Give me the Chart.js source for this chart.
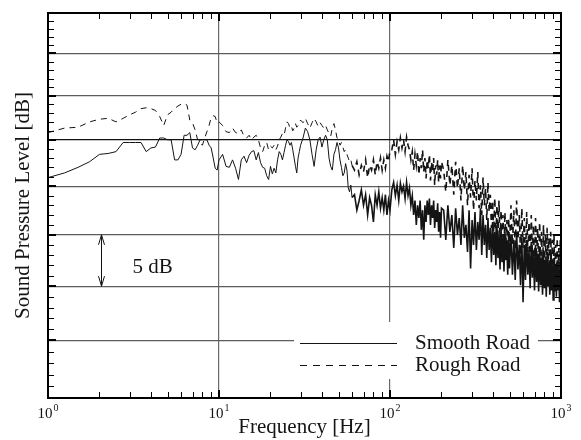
<!DOCTYPE html>
<html>
<head>
<meta charset="utf-8">
<script src="https://cdn.jsdelivr.net/npm/chart.js@4"></script>
<style>
  html, body { margin: 0; padding: 0; background: #fff; }
</style>
</head>
<body>
<canvas id="spectrum" width="581" height="440"></canvas>
<script>
// Frequency points [Hz], shared by both road surfaces
const freqHz = [
    1, 1.25, 1.5, 1.75, 2, 2.25, 2.5, 2.75, 3, 3.25, 3.5, 3.75, 4, 4.25, 4.5, 4.75, 5, 5.25, 5.5, 5.75,
    6, 6.25, 6.5, 6.75, 7, 7.25, 7.5, 7.75, 8, 8.25, 8.5, 8.75, 9, 9.25, 9.5, 9.75, 10,
    10.5, 11, 11.5, 12, 12.5, 13, 13.5, 14, 14.5, 15, 15.5, 16, 16.5, 17, 17.5, 18, 18.5, 19, 19.5, 20,
    20.5, 21, 21.5, 22, 22.5, 23, 23.5, 24, 24.5, 25, 25.5, 26, 26.5, 27, 27.5, 28, 28.5, 29, 29.5, 30,
    31, 32, 33, 34, 35, 36, 37, 38, 39, 40, 41, 42, 43, 44, 45, 46, 47, 48, 49, 50,
    51, 52, 53, 54, 55, 56, 57, 58, 59, 60,
    62, 64, 66, 68, 70, 72, 74, 76, 78, 80, 82, 84, 86, 88, 90, 92, 94, 96, 98, 100,
    102.5, 105, 107.5, 110, 112.5, 115, 117.5, 120, 122.5, 125, 127.5, 130, 132.5, 135, 137.5, 140, 142.5, 145, 147.5, 150,
    152.5, 155, 157.5, 160, 162.5, 165, 167.5, 170, 172.5, 175, 177.5, 180, 182.5, 185, 187.5, 190, 192.5, 195, 197.5, 200,
    206, 212, 218, 224, 230, 236, 242, 248, 254, 260, 266, 272, 278, 284, 290, 296, 302, 308, 314, 320,
    326, 332, 338, 344, 350, 356, 362, 368, 374, 380, 386, 392, 398, 404, 410, 416, 422, 428, 434, 440,
    446, 452, 458, 464, 470, 476, 482, 488, 494, 500,
    510, 520, 530, 540, 550, 560, 570, 580, 590, 600, 610, 620, 630, 640, 650, 660, 670, 680, 690, 700,
    710, 720, 730, 740, 750, 760, 770, 780, 790, 800, 810, 820, 830, 840, 850, 860, 870, 880, 890, 900,
    910, 920, 930, 940, 950, 960, 970, 980, 990, 1000
];

// Sound pressure level [dB], smooth road (solid line)
const smoothDb = [
    100.9, 101.4, 102.0, 102.6, 103.4, 103.5, 103.7, 104.7, 104.7, 104.7, 104.7, 103.7, 104.1, 104.2, 105.2, 105.2, 105.0, 105.0, 102.8, 102.8,
    103.4, 105.5, 105.5, 105.8, 104.1, 103.9, 104.4, 105.0, 105.0, 105.0, 105.0, 104.4, 104.1, 103.0, 101.9, 101.7, 102.8,
    103.4, 102.1, 102.0, 102.8, 101.9, 100.7, 102.8, 103.2, 102.5, 103.3, 103.7, 103.8, 102.8, 103.6, 102.5, 102.0, 101.9, 101.1, 100.7, 102.1,
    101.3, 101.9, 101.4, 102.8, 103.7, 103.4, 102.8, 103.6, 104.4, 105.0, 104.8, 104.4, 104.7, 103.9, 103.0, 102.1, 101.4, 103.0, 103.7, 104.4,
    105.2, 106.3, 105.9, 105.0, 103.4, 102.1, 103.9, 105.0, 105.3, 104.2, 105.0, 105.5, 105.0, 103.0, 102.1, 101.7, 103.4, 103.9, 104.7, 104.1,
    102.8, 102.0, 101.1, 101.4, 102.4, 101.7, 99.8, 99.4, 100.1, 98.8,
    99.1, 97.5, 98.5, 99.6, 98.0, 99.1, 97.0, 98.8, 98.0, 96.3, 99.1, 98.0, 99.4, 97.7, 98.8, 97.5, 99.1, 97.0, 98.5, 97.5,
    99.6, 100.4, 99.0, 100.1, 98.5, 100.3, 99.4, 100.0, 98.7, 100.4, 99.0, 99.8, 98.0, 99.0, 97.0, 98.5, 96.0, 98.0, 96.7, 98.5,
    95.5, 97.5, 94.5, 98.0, 96.3, 98.5, 97.0, 98.7, 96.0, 98.0, 96.7, 98.5, 95.7, 97.5, 96.3, 98.2, 95.3, 97.3, 94.7, 97.7,
    97.5, 94.5, 98.0, 95.3, 97.0, 93.7, 97.7, 95.0, 96.7, 94.0, 98.0, 94.7, 96.0, 93.3, 97.5, 91.7, 96.5, 94.0, 97.3, 93.5,
    96.3, 94.5, 97.7, 93.0, 97.0, 94.0, 96.0, 92.7, 96.7, 93.5, 95.7, 92.3, 96.3, 93.0, 95.3, 92.0, 96.0, 92.7, 95.0, 91.6,
    95.7, 92.3, 94.7, 91.4, 95.3, 92.5, 94.3, 91.1, 95.0, 91.7,
    95.0, 91.1, 94.5, 90.6, 95.3, 91.6, 94.0, 90.1, 94.7, 88.5, 94.0, 90.6, 94.5, 91.1, 93.5, 89.8, 94.3, 90.8, 93.3, 89.6,
    94.0, 90.4, 93.0, 89.5, 93.7, 90.1, 92.7, 89.2, 93.5, 89.8, 92.5, 89.0, 93.3, 90.1, 92.3, 89.2, 93.0, 89.6, 92.0, 88.7,
    92.7, 89.5, 91.7, 89.0, 92.5, 89.6, 91.6, 88.5, 92.3, 89.2
];

// Sound pressure level [dB], rough road (dashed line)
const roughDb = [
    105.8, 106.3, 106.4, 107.0, 107.3, 107.4, 107.0, 107.4, 107.8, 108.1, 108.5, 108.6, 108.5, 108.3, 107.6, 106.6, 107.8, 108.1, 108.5, 108.8,
    109.0, 109.1, 108.9, 107.2, 106.9, 106.1, 105.0, 104.7, 104.4, 105.2, 105.9, 106.6, 107.5, 107.7, 107.6, 106.9, 107.0,
    106.6, 105.9, 105.8, 106.3, 105.8, 105.7, 106.1, 105.4, 105.2, 105.5, 105.0, 105.3, 105.5, 105.0, 104.1, 103.7, 104.4, 104.7, 103.9, 104.3,
    104.1, 104.4, 103.9, 104.3, 105.0, 105.3, 105.7, 105.5, 106.3, 107.0, 106.8, 106.3, 106.5, 106.0, 106.3, 106.8, 106.4, 106.6, 106.9, 107.2,
    106.9, 107.4, 106.8, 106.3, 106.9, 107.4, 107.0, 106.5, 106.9, 106.6, 106.3, 106.6, 106.1, 105.7, 105.4, 106.3, 106.8, 106.1, 105.2, 105.0,
    104.4, 104.7, 104.2, 103.7, 103.9, 103.4, 103.0, 102.6, 102.8, 102.2,
    101.7, 102.6, 101.2, 102.2, 101.5, 102.8, 100.9, 102.2, 101.7, 102.8, 101.2, 102.6, 101.9, 103.0, 101.7, 102.8, 101.9, 103.2, 102.6, 103.9,
    103.9, 105.0, 103.4, 104.8, 103.9, 105.2, 104.1, 105.0, 103.7, 105.3, 104.4, 103.9, 102.8, 103.7, 101.7, 103.4, 102.2, 103.7, 101.2, 103.0,
    101.9, 103.9, 101.5, 103.0, 100.8, 102.8, 101.9, 103.4, 100.6, 102.6, 101.5, 103.0, 100.1, 102.2, 101.2, 102.8, 100.4, 102.2, 100.8, 102.6,
    101.7, 99.4, 102.8, 100.1, 102.2, 99.1, 102.6, 99.8, 101.9, 98.5, 102.2, 99.6, 101.5, 98.0, 101.2, 98.8, 101.9, 97.5, 100.6, 98.5,
    101.5, 97.7, 100.1, 97.0, 100.9, 98.0, 99.8, 96.5, 100.4, 97.3, 99.1, 95.7, 98.5, 95.3, 98.8, 94.5, 98.0, 95.0, 98.5, 94.0,
    97.5, 94.7, 97.0, 93.5, 97.3, 94.0, 96.5, 93.0, 96.7, 93.7,
    98.0, 94.0, 97.5, 93.5, 98.5, 94.5, 97.0, 93.0, 97.7, 93.7, 96.7, 92.5, 97.3, 93.3, 96.3, 92.0, 97.0, 93.0, 96.0, 91.7,
    96.7, 92.7, 95.7, 91.6, 96.3, 92.3, 95.3, 91.1, 96.0, 92.0, 95.0, 90.8, 95.7, 91.7, 94.7, 90.6, 95.3, 91.6, 94.5, 90.1,
    95.0, 91.1, 94.0, 89.8, 94.7, 90.8, 93.7, 89.6, 94.5, 90.6
];

// Axis ticks
const xMajor = [1, 10, 100, 1000];
const xLabelExp = ['0', '1', '2', '3'];
const xMinor = [2, 3, 4, 5, 6, 7, 8, 9, 20, 30, 40, 50, 60, 70, 80, 90, 200, 300, 400, 500, 600, 700, 800, 900];
const yMajor = [80, 85, 90, 95, 100, 105, 110, 115, 120];
const yMinor = [81, 82, 83, 84, 86, 87, 88, 89, 91, 92, 93, 94, 96, 97, 98, 99, 101, 102, 103, 104,
    106, 107, 108, 109, 111, 112, 113, 114, 116, 117, 118, 119];

const seriesNames = ['Smooth Road', 'Rough Road'];
const serif = '"Liberation Serif", "DejaVu Serif", serif';
const ink = '#141414';

const toPoints = levels => freqHz.map((f, i) => ({ x: f, y: levels[i] }));
// the dense FFT part above ~60 Hz reads as a heavier band in the original
const bandWidth = c => c.p0.parsed.x >= 60 ? 1.6 : 1;

// Frame, inward ticks, labels, legend and the 5 dB marker
const decor = {
    id: 'decor',
    afterDraw(chart) {
        const { ctx, chartArea: a, scales: { x, y } } = chart;
        ctx.save();

        ctx.strokeStyle = '#000';
        ctx.lineWidth = 1;
        ctx.beginPath();
        xMinor.forEach(v => {
            const px = Math.round(x.getPixelForValue(v)) + 0.5;
            ctx.moveTo(px, a.top); ctx.lineTo(px, a.top + 6);
            ctx.moveTo(px, a.bottom); ctx.lineTo(px, a.bottom - 6);
        });
        yMinor.forEach(v => {
            const py = Math.round(y.getPixelForValue(v)) + 0.5;
            ctx.moveTo(a.left, py); ctx.lineTo(a.left + 6, py);
            ctx.moveTo(a.right, py); ctx.lineTo(a.right - 6, py);
        });
        ctx.stroke();

        ctx.lineWidth = 2;
        ctx.beginPath();
        [10, 100].forEach(v => {
            const px = Math.round(x.getPixelForValue(v));
            ctx.moveTo(px, a.top); ctx.lineTo(px, a.top + 8);
            ctx.moveTo(px, a.bottom); ctx.lineTo(px, a.bottom - 8);
        });
        yMajor.slice(1, -1).forEach(v => {
            const py = Math.round(y.getPixelForValue(v));
            ctx.moveTo(a.left, py); ctx.lineTo(a.left + 8, py);
            ctx.moveTo(a.right, py); ctx.lineTo(a.right - 8, py);
        });
        ctx.stroke();
        ctx.strokeRect(a.left, a.top, a.right - a.left, a.bottom - a.top);

        // legend
        const lx = a.left + 246, ly = a.bottom - 76;
        ctx.fillStyle = '#fff';
        ctx.fillRect(lx, ly, 244, 57);
        ctx.strokeStyle = ink;
        ctx.lineWidth = 1;
        ctx.beginPath();
        ctx.moveTo(lx + 6, ly + 21.5); ctx.lineTo(lx + 103, ly + 21.5);
        ctx.stroke();
        ctx.setLineDash([7, 6]);
        ctx.beginPath();
        ctx.moveTo(lx + 6, ly + 43.5); ctx.lineTo(lx + 103, ly + 43.5);
        ctx.stroke();
        ctx.setLineDash([]);
        ctx.fillStyle = ink;
        ctx.font = '21px ' + serif;
        ctx.textAlign = 'left';
        ctx.textBaseline = 'middle';
        ctx.fillText(seriesNames[0], lx + 121, ly + 21);
        ctx.fillText(seriesNames[1], lx + 121, ly + 43);

        // 5 dB arrow
        const ax = Math.round(x.getPixelForValue(2.04)) + 0.5;
        const y1 = y.getPixelForValue(95), y2 = y.getPixelForValue(90);
        ctx.beginPath();
        ctx.moveTo(ax, y1); ctx.lineTo(ax, y2);
        ctx.moveTo(ax - 3, y1 + 10); ctx.lineTo(ax, y1); ctx.lineTo(ax + 3, y1 + 10);
        ctx.moveTo(ax - 3, y2 - 10); ctx.lineTo(ax, y2); ctx.lineTo(ax + 3, y2 - 10);
        ctx.stroke();
        ctx.textBaseline = 'alphabetic';
        ctx.fillText('5 dB', ax + 31, (y1 + y2) / 2 + 13);

        // x tick labels 10^n
        xMajor.forEach((v, i) => {
            const px = x.getPixelForValue(v);
            ctx.font = '15px ' + serif;
            const wBase = ctx.measureText('10').width;
            ctx.font = '10px ' + serif;
            const wExp = ctx.measureText(xLabelExp[i]).width;
            const start = px - (wBase + wExp + 1) / 2;
            ctx.font = '15px ' + serif;
            ctx.fillText('10', start, a.bottom + 20);
            ctx.font = '10px ' + serif;
            ctx.fillText(xLabelExp[i], start + wBase + 1, a.bottom + 13);
        });

        // axis titles
        ctx.font = '21px ' + serif;
        ctx.textAlign = 'center';
        ctx.fillText('Frequency [Hz]', (a.left + a.right) / 2, a.bottom + 35);
        ctx.translate(29, (a.top + a.bottom) / 2);
        ctx.rotate(-Math.PI / 2);
        ctx.fillText('Sound Pressure Level [dB]', 0, 0);

        ctx.restore();
    }
};

const chart = new Chart(document.getElementById('spectrum').getContext('2d'), {
    type: 'line',
    data: {
        datasets: [
            {
                label: seriesNames[0], data: toPoints(smoothDb),
                borderColor: ink, borderWidth: 1, pointRadius: 0, tension: 0,
                segment: { borderWidth: bandWidth }
            },
            {
                label: seriesNames[1], data: toPoints(roughDb),
                borderColor: ink, borderWidth: 1, borderDash: [6, 5], pointRadius: 0, tension: 0,
                segment: { borderWidth: bandWidth }
            }
        ]
    },
    options: {
        responsive: false,
        animation: false,
        devicePixelRatio: 1,
        layout: { padding: { left: 48, top: 13, right: 20, bottom: 42 } },
        plugins: { legend: { display: false }, tooltip: { enabled: false } },
        scales: {
            x: {
                type: 'logarithmic',
                min: 1, max: 1000,
                afterBuildTicks: s => { s.ticks = xMajor.map(v => ({ value: v })); },
                ticks: { display: false },
                grid: {
                    drawTicks: false,
                    lineWidth: 1.2,
                    color: c => (c.tick && (c.tick.value === 10 || c.tick.value === 100)) ? '#6a6a6a' : 'rgba(0,0,0,0)'
                },
                border: { display: false }
            },
            y: {
                type: 'logarithmic',
                min: 80, max: 120,
                afterBuildTicks: s => { s.ticks = yMajor.map(v => ({ value: v })); },
                ticks: { display: false },
                grid: {
                    drawTicks: false,
                    lineWidth: 1.2,
                    color: c => {
                        if (!c.tick || c.tick.value === 80 || c.tick.value === 120) return 'rgba(0,0,0,0)';
                        return c.tick.value === 105 ? '#111' : '#5c5c5c';
                    }
                },
                border: { display: false }
            }
        }
    },
    plugins: [decor]
});
</script>
</body>
</html>
